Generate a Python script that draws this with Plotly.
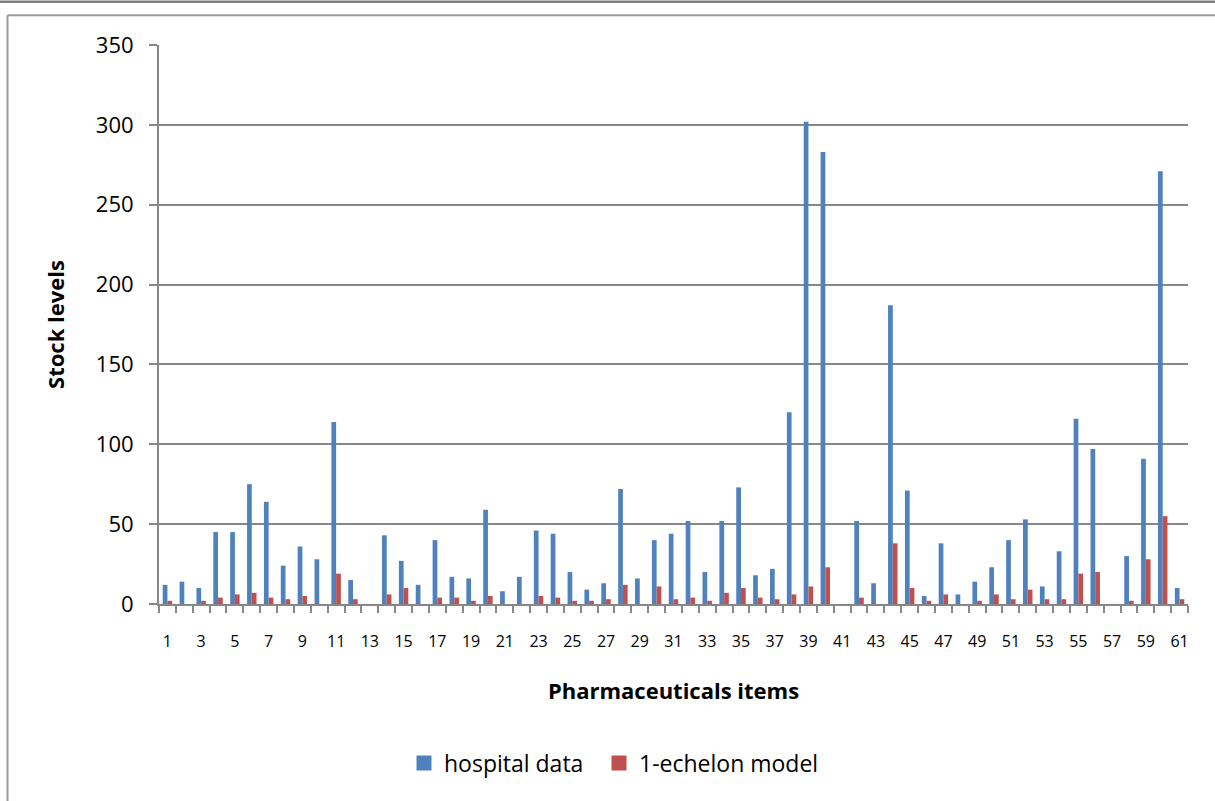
import plotly.graph_objects as go

items = list(range(1, 62))
hospital_data = [12, 14, 10, 45, 45, 75, 64, 24, 36, 28,
                 114, 15, 0, 43, 27, 12, 40, 17, 16, 59,
                 8, 17, 46, 44, 20, 9, 13, 72, 16, 40,
                 44, 52, 20, 52, 73, 18, 22, 120, 302, 283,
                 0, 52, 13, 187, 71, 5, 38, 6, 14, 23,
                 40, 53, 11, 33, 116, 97, 0, 30, 91, 271,
                 10]
echelon_model = [2, 0, 2, 4, 6, 7, 4, 3, 5, 0,
                 19, 3, 0, 6, 10, 0, 4, 4, 2, 5,
                 0, 0, 5, 4, 2, 2, 3, 12, 0, 11,
                 3, 4, 2, 7, 10, 4, 3, 6, 11, 23,
                 0, 4, 0, 38, 10, 2, 6, 0, 2, 6,
                 3, 9, 3, 3, 19, 20, 0, 2, 28, 55,
                 3]
tick_labels = [str(i) for i in range(1, 62, 2)]
tick_positions = list(range(1, 62, 2))
y_ticks = [0, 50, 100, 150, 200, 250, 300, 350]
series_names = ["hospital data", "1-echelon model"]

BLUE = "#4F81BD"
RED = "#C0504D"
GRID = "#878787"
FONT = "Open Sans"

fig = go.Figure()
fig.add_trace(go.Bar(x=items, y=hospital_data, name=series_names[0],
                     marker=dict(color=BLUE, line=dict(width=0)),
                     showlegend=False))
fig.add_trace(go.Bar(x=items, y=echelon_model, name=series_names[1],
                     marker=dict(color=RED, line=dict(width=0)),
                     showlegend=False))
# legend entries with square swatches (one legend box per series)
for nm, col, lg in zip(series_names, [BLUE, RED], ["legend", "legend2"]):
    fig.add_trace(go.Scatter(x=[None], y=[None], mode="markers", name=nm,
                             marker=dict(symbol="square", size=15, color=col,
                                         line=dict(width=0)),
                             showlegend=True, hoverinfo="skip", legend=lg))

W, H = 1215, 801
L, R, T, B = 159, 1188, 45, 604

def px(x):
    return (x - L) / (R - L)

def py(y):
    return (B - y) / (B - T)

legend_common = dict(orientation="h", xanchor="left", yanchor="middle",
                     y=py(763),
                     font=dict(size=23, family=FONT, color="#000000"),
                     itemwidth=30, itemsizing="trace",
                     bgcolor="rgba(0,0,0,0)")

fig.update_layout(
    width=W, height=H,
    margin=dict(l=L, r=W - R, t=T, b=H - B, pad=0),
    paper_bgcolor="white", plot_bgcolor="white",
    barmode="group", bargap=0.44, bargroupgap=0,
    font=dict(family=FONT, color="#000000"),
    showlegend=True,
    legend=dict(x=px(404), **legend_common),
    legend2=dict(x=px(599), **legend_common),
    xaxis=dict(
        range=[0.5, 61.5], tickmode="array", tickvals=tick_positions,
        ticktext=tick_labels, ticks="", showgrid=False,
        showline=True, linecolor=GRID, linewidth=2,
        tickfont=dict(size=16, family=FONT, color="#000000"),
        ticklabelstandoff=22,
        minor=dict(tickmode="linear", tick0=0.5, dtick=1, ticks="outside",
                   ticklen=7, tickcolor=GRID, tickwidth=2, showgrid=False),
        title=dict(text="<b>Pharmaceuticals items</b>",
                   font=dict(size=22, family=FONT, color="#000000"),
                   standoff=32),
        zeroline=False,
    ),
    yaxis=dict(
        range=[0, 350], tickmode="array", tickvals=y_ticks,
        showgrid=True, gridcolor=GRID, gridwidth=1.5,
        showline=True, linecolor=GRID, linewidth=2,
        ticks="outside", ticklen=8, tickcolor=GRID, tickwidth=1.5,
        tickfont=dict(size=22, family=FONT, color="#000000"),
        ticklabelstandoff=11,
        title=dict(text="<b>Stock levels</b>",
                   font=dict(size=22, family=FONT, color="#000000"),
                   standoff=25),
        zeroline=False,
    ),
)

# outer frame decoration
fig.add_shape(type="line", xref="paper", yref="paper",
              x0=px(0), x1=px(W), y0=py(1.7), y1=py(1.7),
              line=dict(color="#7f7f7f", width=2.5))
fig.add_shape(type="line", xref="paper", yref="paper",
              x0=px(7.5), x1=px(W), y0=py(15.3), y1=py(15.3),
              line=dict(color="#9a9a9a", width=2))
fig.add_shape(type="line", xref="paper", yref="paper",
              x0=px(7.5), x1=px(7.5), y0=py(15.3), y1=py(H + 5),
              line=dict(color="#9a9a9a", width=2))

fig.write_html("out.html",
               config={"displayModeBar": False},
               post_script="document.body.style.margin='0px';"
                           "document.body.style.overflow='hidden';")
